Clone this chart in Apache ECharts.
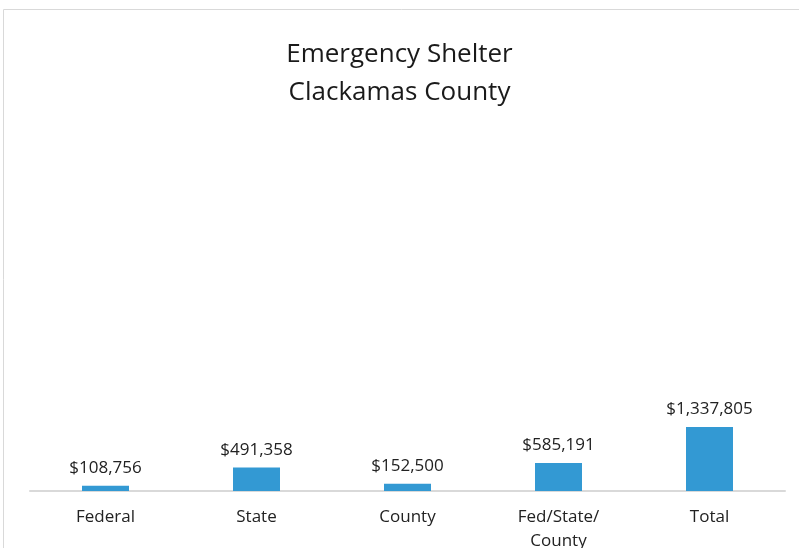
<!DOCTYPE html>
<html>
<head>
<meta charset="utf-8">
<script src="https://cdn.jsdelivr.net/npm/echarts@6/dist/echarts.min.js"></script>
<style>
  html, body { margin: 0; padding: 0; background: #fff; }
  #chart { width: 799px; height: 548px; }
</style>
</head>
<body>
<div id="chart"></div>
<script>
const categories = ['Federal', 'State', 'County', 'Fed/State/\nCounty', 'Total'];
const amounts = [108756, 491358, 152500, 585191, 1337805];

const chart = echarts.init(document.getElementById('chart'));
const fmt = v => '$' + v.toLocaleString('en-US');

chart.setOption({
    animation: false,
    textStyle: { fontFamily: 'Open Sans' },
    title: {
        text: 'Emergency Shelter\nClackamas County',
        left: 'center',
        top: 31,
        textStyle: { fontSize: 26, fontWeight: 'normal', color: '#1a1a1a', lineHeight: 38 }
    },
    graphic: [{
        type: 'rect',
        shape: { x: 3.5, y: 9.5, width: 820, height: 560 },
        style: { fill: 'none', stroke: '#d9d9d9', lineWidth: 1 },
        silent: true
    }],
    grid: { left: 30, right: 14, top: 142, bottom: 57, outerBoundsMode: 'none', containLabel: false },
    xAxis: {
        type: 'category',
        data: categories,
        axisLine: { lineStyle: { color: '#d9d9d9', width: 2 } },
        axisTick: { show: false },
        axisLabel: { color: '#222', fontSize: 17, margin: 14, lineHeight: 24 }
    },
    yAxis: {
        type: 'value',
        min: 0,
        max: 7300000,
        show: false,
        splitLine: { show: false }
    },
    series: [{
        type: 'bar',
        data: amounts,
        barWidth: 47,
        itemStyle: { color: '#3399d3' },
        label: {
            show: true,
            position: 'top',
            distance: 9,
            color: '#222',
            fontSize: 17,
            formatter: p => fmt(p.value)
        }
    }]
});
</script>
</body>
</html>
